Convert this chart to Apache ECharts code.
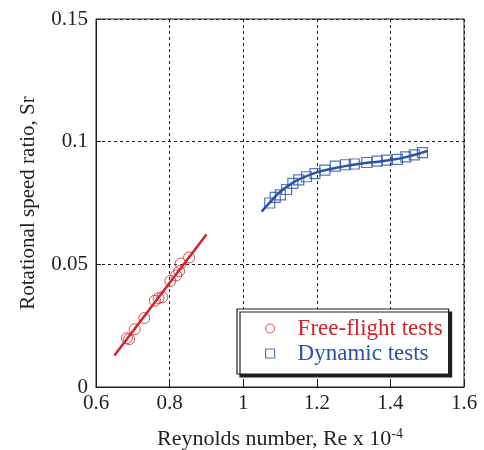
<!DOCTYPE html>
<html>
<head>
<meta charset="utf-8">
<script src="https://cdn.jsdelivr.net/npm/echarts@6/dist/echarts.min.js"></script>
<style>
  html, body { margin: 0; padding: 0; background: #fff; }
  #main { width: 484px; height: 450px; }
</style>
</head>
<body>
<div id="main"></div>
<script>
// 数据
var freeX = [0.684, 0.690, 0.705, 0.731, 0.760, 0.770, 0.780, 0.802, 0.818, 0.826, 0.830, 0.853];
var freeY = [0.0199, 0.0195, 0.0235, 0.0281, 0.0352, 0.0362, 0.0366, 0.0432, 0.0455, 0.0472, 0.0503, 0.0528];
var freeFitX = [0.65, 0.90];
var freeFitY = [0.0128, 0.0622];

var dynX = [1.072, 1.087, 1.101, 1.118, 1.135, 1.151, 1.172, 1.195, 1.222, 1.250, 1.278, 1.302, 1.336, 1.364, 1.390, 1.419, 1.442, 1.465, 1.487];
var dynY = [0.0750, 0.0773, 0.0783, 0.0805, 0.0830, 0.0844, 0.0857, 0.0870, 0.0884, 0.0900, 0.0906, 0.0909, 0.0915, 0.0921, 0.0925, 0.0928, 0.0938, 0.0946, 0.0955];
var dynFitX = [1.05, 1.08, 1.10, 1.13, 1.16, 1.20, 1.25, 1.30, 1.35, 1.40, 1.45, 1.50];
var dynFitY = [0.0715, 0.0765, 0.0795, 0.0828, 0.0852, 0.0875, 0.0893, 0.0906, 0.0916, 0.0925, 0.0940, 0.0962];

var xTicks = [0.6, 0.8, 1, 1.2, 1.4, 1.6];
var yTicks = [0, 0.05, 0.1, 0.15];

function pairs(xs, ys) {
  return xs.map(function (x, i) { return [x, ys[i]]; });
}

var RED = '#d2232a';
var BLUE = '#2a52a8';
var INK = '#231f20';
var FONT = 'Liberation Serif';

var myChart = echarts.init(document.getElementById('main'));

var option = {
  backgroundColor: '#fff',
  animation: false,
  textStyle: { fontFamily: FONT },
  grid: {
    left: 96, right: 20, top: 19, bottom: 63,
    outerBoundsMode: 'none',
    show: true, borderColor: INK, borderWidth: 1, backgroundColor: 'transparent'
  },
  legend: {
    left: 237, top: 309,
    orient: 'vertical',
    padding: [8, 6, 9, 28],
    itemGap: 2,
    itemWidth: 9, itemHeight: 9,
    backgroundColor: '#fff',
    borderColor: INK, borderWidth: 1.2,
    shadowColor: INK, shadowBlur: 0, shadowOffsetX: 3, shadowOffsetY: 3,
    textStyle: { fontFamily: FONT, fontSize: 23, lineHeight: 22, padding: [0, 0, 0, 18] },
    data: [
      { name: 'Free-flight tests', icon: 'circle',
        itemStyle: { color: '#fff', borderColor: RED, borderWidth: 1 },
        textStyle: { color: RED } },
      { name: 'Dynamic tests', icon: 'rect',
        itemStyle: { color: '#fff', borderColor: BLUE, borderWidth: 1.2 },
        textStyle: { color: BLUE } }
    ]
  },
  xAxis: {
    type: 'value', min: 0.6, max: 1.6, interval: 0.2,
    name: 'Reynolds number, Re x 10{sup|-4}',
    nameLocation: 'middle', nameGap: 40,
    nameTextStyle: {
      fontFamily: FONT, fontSize: 22, color: INK,
      rich: { sup: { fontFamily: FONT, fontSize: 14, color: INK, verticalAlign: 'top', padding: [0, 0, 10, 0] } }
    },
    axisLine: { show: true, lineStyle: { color: INK, width: 1 } },
    axisTick: { show: true, inside: true, length: 5, lineStyle: { color: INK } },
    axisLabel: {
      fontFamily: FONT, fontSize: 21, color: INK, margin: 6,
      formatter: function (v) {
        var t = xTicks.filter(function (k) { return Math.abs(k - v) < 1e-9; });
        return t.length ? String(t[0]) : '';
      }
    },
    splitLine: { show: true, lineStyle: { color: INK, type: [3, 3], width: 1 } }
  },
  yAxis: {
    type: 'value', min: 0, max: 0.15, interval: 0.05,
    name: 'Rotational speed ratio, Sr',
    nameLocation: 'middle', nameGap: 57, nameRotate: 90,
    nameTextStyle: { fontFamily: FONT, fontSize: 21, color: INK },
    axisLine: { show: true, lineStyle: { color: INK, width: 1 } },
    axisTick: { show: true, inside: true, length: 5, lineStyle: { color: INK } },
    axisLabel: {
      fontFamily: FONT, fontSize: 21, color: INK, margin: 8,
      formatter: function (v) {
        var t = yTicks.filter(function (k) { return Math.abs(k - v) < 1e-9; });
        return t.length ? String(t[0]) : '';
      }
    },
    splitLine: { show: true, lineStyle: { color: INK, type: [3, 3], width: 1 } }
  },
  series: [
    {
      name: 'Free-flight fit', type: 'line', data: pairs(freeFitX, freeFitY),
      showSymbol: false, symbol: 'none',
      lineStyle: { color: RED, width: 2.5 }, z: 3
    },
    {
      name: 'Dynamic fit', type: 'line', data: pairs(dynFitX, dynFitY),
      smooth: true, showSymbol: false, symbol: 'none',
      lineStyle: { color: BLUE, width: 2.5 }, z: 3
    },
    {
      name: 'Free-flight tests', type: 'scatter', data: pairs(freeX, freeY),
      symbol: 'circle', symbolSize: 11,
      itemStyle: { color: 'transparent', borderColor: RED, borderWidth: 1 }, z: 4
    },
    {
      name: 'Dynamic tests', type: 'scatter', data: pairs(dynX, dynY),
      symbol: 'rect', symbolSize: 10,
      itemStyle: { color: 'transparent', borderColor: BLUE, borderWidth: 1.2 }, z: 4
    }
  ]
};

myChart.setOption(option);
</script>
</body>
</html>
